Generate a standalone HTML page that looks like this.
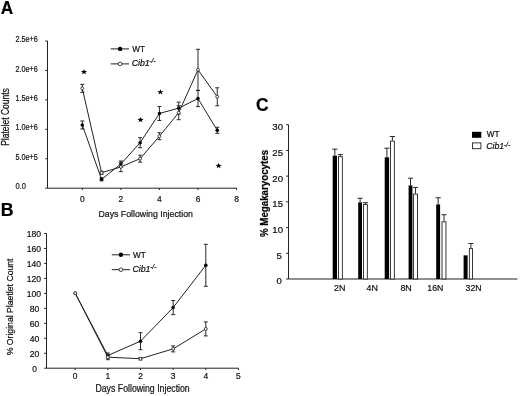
<!DOCTYPE html>
<html><head><meta charset="utf-8"><title>Figure</title>
<style>
html,body{margin:0;padding:0;background:#fff;}
body{width:520px;height:396px;overflow:hidden;font-family:"Liberation Sans",sans-serif;}
svg{display:block;filter:blur(0.3px);}
text{font-family:"Liberation Sans",sans-serif;fill:#111;stroke:#111;stroke-width:0.22;}
.b{font-weight:bold;fill:#000;}
.i{font-style:italic;}
.ax{stroke:#222;stroke-width:1;fill:none;}
.ln{stroke:#222;stroke-width:1;fill:none;}
.eb{stroke:#2a2a2a;stroke-width:1;fill:none;}
</style></head><body>
<svg width="520" height="396" viewBox="0 0 520 396">
<rect width="520" height="396" fill="#fff"/>

<text x="0.8" y="13.8" font-size="18" textLength="12.4" lengthAdjust="spacingAndGlyphs" class="b">A</text>
<path class="ax" d="M47.5 41.0V188.2H237"/>
<path class="ax" d="M45.3 188.2H47.5"/>
<text x="15.4" y="189.3" font-size="9.5" textLength="10.5" lengthAdjust="spacingAndGlyphs">0.0</text>
<path class="ax" d="M45.3 158.76H47.5"/>
<text x="15.4" y="159.86" font-size="9.5" textLength="22.3" lengthAdjust="spacingAndGlyphs">5.0e+5</text>
<path class="ax" d="M45.3 129.32H47.5"/>
<text x="15.4" y="130.42" font-size="9.5" textLength="22.3" lengthAdjust="spacingAndGlyphs">1.0e+6</text>
<path class="ax" d="M45.3 99.88H47.5"/>
<text x="15.4" y="100.98" font-size="9.5" textLength="22.3" lengthAdjust="spacingAndGlyphs">1.5e+6</text>
<path class="ax" d="M45.3 70.44H47.5"/>
<text x="15.4" y="71.54" font-size="9.5" textLength="22.3" lengthAdjust="spacingAndGlyphs">2.0e+6</text>
<path class="ax" d="M45.3 41H47.5"/>
<text x="15.4" y="42.1" font-size="9.5" textLength="22.3" lengthAdjust="spacingAndGlyphs">2.5e+6</text>
<path class="ax" d="M82.3 188.2v1.8"/>
<text x="82.3" y="201.8" font-size="9.6" textLength="4.7" lengthAdjust="spacingAndGlyphs" text-anchor="middle">0</text>
<path class="ax" d="M120.86 188.2v1.8"/>
<text x="120.86" y="201.8" font-size="9.6" textLength="4.7" lengthAdjust="spacingAndGlyphs" text-anchor="middle">2</text>
<path class="ax" d="M159.42 188.2v1.8"/>
<text x="159.42" y="201.8" font-size="9.6" textLength="4.7" lengthAdjust="spacingAndGlyphs" text-anchor="middle">4</text>
<path class="ax" d="M197.98 188.2v1.8"/>
<text x="197.98" y="201.8" font-size="9.6" textLength="4.7" lengthAdjust="spacingAndGlyphs" text-anchor="middle">6</text>
<path class="ax" d="M236.54 188.2v1.8"/>
<text x="236.54" y="201.8" font-size="9.6" textLength="4.7" lengthAdjust="spacingAndGlyphs" text-anchor="middle">8</text>
<text x="145.7" y="217.4" font-size="9.4" textLength="94.5" lengthAdjust="spacingAndGlyphs" text-anchor="middle">Days Following Injection</text>
<text transform="translate(8.8,117) rotate(-90)" font-size="10.2" textLength="57.6" lengthAdjust="spacingAndGlyphs" text-anchor="middle">Platelet Counts</text>
<polyline class="ln" points="82.3,124.98 101.58,179.34 120.86,163.98 140.14,142.71 159.42,113.46 178.7,108.15 197.98,98.58 217.26,130.3"/>
<path class="eb" d="M82.3 120.98V128.98M80.3 120.98H84.3M80.3 128.98H84.3"/>
<path class="eb" d="M101.58 177.84V180.84M99.58 177.84H103.58M99.58 180.84H103.58"/>
<path class="eb" d="M120.86 160.98V166.98M118.86 160.98H122.86M118.86 166.98H122.86"/>
<path class="eb" d="M140.14 137.71V147.71M138.14 137.71H142.14M138.14 147.71H142.14"/>
<path class="eb" d="M159.42 106.46V120.46M157.42 106.46H161.42M157.42 120.46H161.42"/>
<path class="eb" d="M178.7 102.15V114.15M176.7 102.15H180.7M176.7 114.15H180.7"/>
<path class="eb" d="M197.98 90.58V106.58M195.98 90.58H199.98M195.98 106.58H199.98"/>
<path class="eb" d="M217.26 127.3V133.3M215.26 127.3H219.26M215.26 133.3H219.26"/>
<circle cx="82.3" cy="124.98" r="1.8" fill="#000"/>
<circle cx="101.58" cy="179.34" r="1.8" fill="#000"/>
<circle cx="120.86" cy="163.98" r="1.8" fill="#000"/>
<circle cx="140.14" cy="142.71" r="1.8" fill="#000"/>
<circle cx="159.42" cy="113.46" r="1.8" fill="#000"/>
<circle cx="178.7" cy="108.15" r="1.8" fill="#000"/>
<circle cx="197.98" cy="98.58" r="1.8" fill="#000"/>
<circle cx="217.26" cy="130.3" r="1.8" fill="#000"/>
<polyline class="ln" points="82.3,88.35 101.58,172.72 120.86,166.93 140.14,158.66 159.42,136.21 178.7,112.7 197.98,69.8 217.26,96.8"/>
<path class="eb" d="M82.3 84.35V92.35M80.3 84.35H84.3M80.3 92.35H84.3"/>
<path class="eb" d="M101.58 171.22V174.22M99.58 171.22H103.58M99.58 174.22H103.58"/>
<path class="eb" d="M120.86 162.23V171.63M118.86 162.23H122.86M118.86 171.63H122.86"/>
<path class="eb" d="M140.14 155.16V162.16M138.14 155.16H142.14M138.14 162.16H142.14"/>
<path class="eb" d="M159.42 132.71V139.71M157.42 132.71H161.42M157.42 139.71H161.42"/>
<path class="eb" d="M178.7 105.7V119.7M176.7 105.7H180.7M176.7 119.7H180.7"/>
<path class="eb" d="M197.98 49.3V90.3M195.98 49.3H199.98M195.98 90.3H199.98"/>
<path class="eb" d="M217.26 87.8V105.8M215.26 87.8H219.26M215.26 105.8H219.26"/>
<circle cx="82.3" cy="88.35" r="1.45" fill="#fff" stroke="#222" stroke-width="0.85"/>
<circle cx="101.58" cy="172.72" r="1.45" fill="#fff" stroke="#222" stroke-width="0.85"/>
<circle cx="120.86" cy="166.93" r="1.45" fill="#fff" stroke="#222" stroke-width="0.85"/>
<circle cx="140.14" cy="158.66" r="1.45" fill="#fff" stroke="#222" stroke-width="0.85"/>
<circle cx="159.42" cy="136.21" r="1.45" fill="#fff" stroke="#222" stroke-width="0.85"/>
<circle cx="178.7" cy="112.7" r="1.45" fill="#fff" stroke="#222" stroke-width="0.85"/>
<circle cx="197.98" cy="69.8" r="1.45" fill="#fff" stroke="#222" stroke-width="0.85"/>
<circle cx="217.26" cy="96.8" r="1.45" fill="#fff" stroke="#222" stroke-width="0.85"/>
<polygon points="84,69.11 84.79,71.07 87.23,71.11 85.28,72.35 86,74.34 84,73.15 82,74.34 82.72,72.35 80.77,71.11 83.21,71.07" fill="#000"/>
<polygon points="140.5,116.91 141.29,118.87 143.73,118.91 141.78,120.15 142.5,122.14 140.5,120.95 138.5,122.14 139.22,120.15 137.27,118.91 139.71,118.87" fill="#000"/>
<polygon points="160.4,89.31 161.19,91.27 163.63,91.31 161.68,92.55 162.4,94.54 160.4,93.35 158.4,94.54 159.12,92.55 157.17,91.31 159.61,91.27" fill="#000"/>
<polygon points="218.6,162.91 219.39,164.87 221.83,164.91 219.88,166.15 220.6,168.14 218.6,166.95 216.6,168.14 217.32,166.15 215.37,164.91 217.81,164.87" fill="#000"/>
<path class="ln" d="M110.7 48.9H129M110.7 63.9H129"/>
<circle cx="120.1" cy="48.9" r="2.2" fill="#000"/>
<circle cx="120.1" cy="63.9" r="1.85" fill="#fff" stroke="#222" stroke-width="0.85"/>
<text x="132.3" y="51.8" font-size="9" textLength="12.7" lengthAdjust="spacingAndGlyphs">WT</text>
<text x="131.7" y="66" font-size="9" textLength="18" lengthAdjust="spacingAndGlyphs" class="i">Cib1</text>
<text x="149.3" y="63.4" font-size="6.6" textLength="6.4" lengthAdjust="spacingAndGlyphs" class="i">-/-</text>
<text x="0.8" y="215.6" font-size="18" textLength="12.8" lengthAdjust="spacingAndGlyphs" class="b">B</text>
<path class="ax" d="M46.5 233.5V368.2H238.5"/>
<path class="ax" d="M44.1 368.2H46.5"/>
<text x="34.6" y="371.6" font-size="9.9" textLength="4.7" lengthAdjust="spacingAndGlyphs" text-anchor="middle">0</text>
<path class="ax" d="M44.1 353.23H46.5"/>
<text x="34.5" y="356.63" font-size="9.9" textLength="9.6" lengthAdjust="spacingAndGlyphs" text-anchor="middle">20</text>
<path class="ax" d="M44.1 338.27H46.5"/>
<text x="34.5" y="341.67" font-size="9.9" textLength="9.6" lengthAdjust="spacingAndGlyphs" text-anchor="middle">40</text>
<path class="ax" d="M44.1 323.3H46.5"/>
<text x="34.5" y="326.7" font-size="9.9" textLength="9.6" lengthAdjust="spacingAndGlyphs" text-anchor="middle">60</text>
<path class="ax" d="M44.1 308.33H46.5"/>
<text x="34.5" y="311.73" font-size="9.9" textLength="9.6" lengthAdjust="spacingAndGlyphs" text-anchor="middle">80</text>
<path class="ax" d="M44.1 293.37H46.5"/>
<text x="33.9" y="296.77" font-size="9.9" textLength="14.4" lengthAdjust="spacingAndGlyphs" text-anchor="middle">100</text>
<path class="ax" d="M44.1 278.4H46.5"/>
<text x="33.9" y="281.8" font-size="9.9" textLength="14.4" lengthAdjust="spacingAndGlyphs" text-anchor="middle">120</text>
<path class="ax" d="M44.1 263.43H46.5"/>
<text x="33.9" y="266.83" font-size="9.9" textLength="14.4" lengthAdjust="spacingAndGlyphs" text-anchor="middle">140</text>
<path class="ax" d="M44.1 248.47H46.5"/>
<text x="33.9" y="251.87" font-size="9.9" textLength="14.4" lengthAdjust="spacingAndGlyphs" text-anchor="middle">160</text>
<path class="ax" d="M44.1 233.5H46.5"/>
<text x="33.9" y="236.9" font-size="9.9" textLength="14.4" lengthAdjust="spacingAndGlyphs" text-anchor="middle">180</text>
<path class="ax" d="M75.2 368.2v1.8"/>
<text x="75.2" y="378.9" font-size="9.6" textLength="4.7" lengthAdjust="spacingAndGlyphs" text-anchor="middle">0</text>
<path class="ax" d="M107.85 368.2v1.8"/>
<text x="107.85" y="378.9" font-size="9.6" textLength="4.7" lengthAdjust="spacingAndGlyphs" text-anchor="middle">1</text>
<path class="ax" d="M140.5 368.2v1.8"/>
<text x="140.5" y="378.9" font-size="9.6" textLength="4.7" lengthAdjust="spacingAndGlyphs" text-anchor="middle">2</text>
<path class="ax" d="M173.15 368.2v1.8"/>
<text x="173.15" y="378.9" font-size="9.6" textLength="4.7" lengthAdjust="spacingAndGlyphs" text-anchor="middle">3</text>
<path class="ax" d="M205.8 368.2v1.8"/>
<text x="205.8" y="378.9" font-size="9.6" textLength="4.7" lengthAdjust="spacingAndGlyphs" text-anchor="middle">4</text>
<path class="ax" d="M238.45 368.2v1.8"/>
<text x="238.45" y="378.9" font-size="9.6" textLength="4.7" lengthAdjust="spacingAndGlyphs" text-anchor="middle">5</text>
<text x="142.6" y="392.3" font-size="10.2" textLength="94.3" lengthAdjust="spacingAndGlyphs" text-anchor="middle">Days Following Injection</text>
<text transform="translate(13,306.9) rotate(-90)" font-size="9.8" textLength="96.8" lengthAdjust="spacingAndGlyphs" text-anchor="middle">% Original Plaetlet Count</text>
<polyline class="ln" points="75.2,293.22 107.85,355.48 140.5,341.19 173.15,307.58 205.8,265.3"/>
<path class="eb" d="M107.85 352.98V357.98M105.85 352.98H109.85M105.85 357.98H109.85"/>
<path class="eb" d="M140.5 332.69V349.69M138.5 332.69H142.5M138.5 349.69H142.5"/>
<path class="eb" d="M173.15 300.58V314.58M171.15 300.58H175.15M171.15 314.58H175.15"/>
<path class="eb" d="M205.8 244.3V286.3M203.8 244.3H207.8M203.8 286.3H207.8"/>
<circle cx="75.2" cy="293.22" r="1.8" fill="#000"/>
<circle cx="107.85" cy="355.48" r="1.8" fill="#000"/>
<circle cx="140.5" cy="341.19" r="1.8" fill="#000"/>
<circle cx="173.15" cy="307.58" r="1.8" fill="#000"/>
<circle cx="205.8" cy="265.3" r="1.8" fill="#000"/>
<polyline class="ln" points="75.2,293.22 107.85,357.2 140.5,358.7 173.15,348.89 205.8,328.91"/>
<path class="eb" d="M107.85 354.7V359.7M105.85 354.7H109.85M105.85 359.7H109.85"/>
<path class="eb" d="M140.5 357.5V359.9M138.5 357.5H142.5M138.5 359.9H142.5"/>
<path class="eb" d="M173.15 345.89V351.89M171.15 345.89H175.15M171.15 351.89H175.15"/>
<path class="eb" d="M205.8 321.91V335.91M203.8 321.91H207.8M203.8 335.91H207.8"/>
<circle cx="75.2" cy="293.22" r="1.45" fill="#fff" stroke="#222" stroke-width="0.85"/>
<circle cx="107.85" cy="357.2" r="1.45" fill="#fff" stroke="#222" stroke-width="0.85"/>
<circle cx="140.5" cy="358.7" r="1.45" fill="#fff" stroke="#222" stroke-width="0.85"/>
<circle cx="173.15" cy="348.89" r="1.45" fill="#fff" stroke="#222" stroke-width="0.85"/>
<circle cx="205.8" cy="328.91" r="1.45" fill="#fff" stroke="#222" stroke-width="0.85"/>
<path class="ln" d="M111.8 254.8H130M111.8 269.7H130"/>
<circle cx="120.9" cy="254.8" r="2.2" fill="#000"/>
<circle cx="120.9" cy="269.7" r="1.85" fill="#fff" stroke="#222" stroke-width="0.85"/>
<text x="133" y="257.5" font-size="9" textLength="12.7" lengthAdjust="spacingAndGlyphs">WT</text>
<text x="132.4" y="271.8" font-size="9" textLength="18" lengthAdjust="spacingAndGlyphs" class="i">Cib1</text>
<text x="150" y="269.2" font-size="6.6" textLength="6.4" lengthAdjust="spacingAndGlyphs" class="i">-/-</text>
<text x="256" y="111.4" font-size="18" textLength="12.6" lengthAdjust="spacingAndGlyphs" class="b">C</text>
<path class="ax" d="M288.5 124.7V279.0H517.5"/>
<path class="ax" d="M286.1 279H288.5"/>
<text x="281.9" y="284.4" font-size="9.6" text-anchor="end">0</text>
<path class="ax" d="M286.1 253.28H288.5"/>
<text x="281.9" y="258.68" font-size="9.6" text-anchor="end">5</text>
<path class="ax" d="M286.1 227.57H288.5"/>
<text x="283" y="232.97" font-size="9.6" text-anchor="end">10</text>
<path class="ax" d="M286.1 201.85H288.5"/>
<text x="283" y="207.25" font-size="9.6" text-anchor="end">15</text>
<path class="ax" d="M286.1 176.13H288.5"/>
<text x="283" y="181.53" font-size="9.6" text-anchor="end">20</text>
<path class="ax" d="M286.1 150.42H288.5"/>
<text x="283" y="155.82" font-size="9.6" text-anchor="end">25</text>
<path class="ax" d="M286.1 124.7H288.5"/>
<text x="283" y="130.1" font-size="9.6" text-anchor="end">30</text>
<text transform="translate(268.3,193.5) rotate(-90)" font-size="10" textLength="87.2" lengthAdjust="spacingAndGlyphs" text-anchor="middle" class="b">% Megakaryocytes</text>
<rect x="332.7" y="155.71" width="4.3" height="123.29" fill="#000"/>
<rect x="338.45" y="156.68" width="3.9" height="122.32" fill="#fff" stroke="#222" stroke-width="0.9"/>
<path class="eb" d="M334.85 155.71V149.13M332.25 149.13H337.45"/>
<path class="eb" d="M340.4 156.23V154.63M337.8 154.63H343"/>
<rect x="358.2" y="202.36" width="3.8" height="76.64" fill="#000"/>
<rect x="363.45" y="204.56" width="3.9" height="74.44" fill="#fff" stroke="#222" stroke-width="0.9"/>
<path class="eb" d="M360.1 202.36V198.25M357.5 198.25H362.7"/>
<path class="eb" d="M365.4 204.11V202.72M362.8 202.72H368"/>
<rect x="384.7" y="157.31" width="4.4" height="121.69" fill="#000"/>
<rect x="390.45" y="141.09" width="3.9" height="137.91" fill="#fff" stroke="#222" stroke-width="0.9"/>
<path class="eb" d="M386.9 157.31V148.21M384.3 148.21H389.5"/>
<path class="eb" d="M392.4 140.64V136.53M389.8 136.53H395"/>
<rect x="408.6" y="185.39" width="3.8" height="93.61" fill="#000"/>
<rect x="413.55" y="194.07" width="3.9" height="84.93" fill="#fff" stroke="#222" stroke-width="0.9"/>
<path class="eb" d="M410.5 185.39V178.19M407.9 178.19H413.1"/>
<path class="eb" d="M415.5 193.62V187.45M412.9 187.45H418.1"/>
<rect x="436.2" y="204.42" width="3.9" height="74.58" fill="#000"/>
<rect x="442.05" y="221.84" width="3.9" height="57.16" fill="#fff" stroke="#222" stroke-width="0.9"/>
<path class="eb" d="M438.15 204.42V197.74M435.55 197.74H440.75"/>
<path class="eb" d="M444 221.39V214.71M441.4 214.71H446.6"/>
<rect x="463.6" y="255.34" width="4" height="23.66" fill="#000"/>
<rect x="469.35" y="248.59" width="3.1" height="30.41" fill="#fff" stroke="#222" stroke-width="0.9"/>
<path class="eb" d="M470.9 248.14V243.51M468.3 243.51H473.5"/>
<text x="339.8" y="290.8" font-size="9.8" textLength="11.4" lengthAdjust="spacingAndGlyphs" text-anchor="middle">2N</text>
<text x="372.3" y="290.8" font-size="9.8" textLength="11.4" lengthAdjust="spacingAndGlyphs" text-anchor="middle">4N</text>
<text x="406.1" y="290.8" font-size="9.8" textLength="11.4" lengthAdjust="spacingAndGlyphs" text-anchor="middle">8N</text>
<text x="435.3" y="290.8" font-size="9.8" textLength="16" lengthAdjust="spacingAndGlyphs" text-anchor="middle">16N</text>
<text x="473.6" y="290.8" font-size="9.8" textLength="16" lengthAdjust="spacingAndGlyphs" text-anchor="middle">32N</text>
<rect x="472" y="131.8" width="9.3" height="6" fill="#000"/>
<rect x="472.5" y="142.9" width="8.4" height="5.8" fill="#fff" stroke="#222" stroke-width="0.9"/>
<text x="486.8" y="136.9" font-size="9" textLength="12.7" lengthAdjust="spacingAndGlyphs">WT</text>
<text x="486.2" y="149.3" font-size="9" textLength="18" lengthAdjust="spacingAndGlyphs" class="i">Cib1</text>
<text x="503.8" y="146.7" font-size="6.6" textLength="6.4" lengthAdjust="spacingAndGlyphs" class="i">-/-</text>
</svg></body></html>
